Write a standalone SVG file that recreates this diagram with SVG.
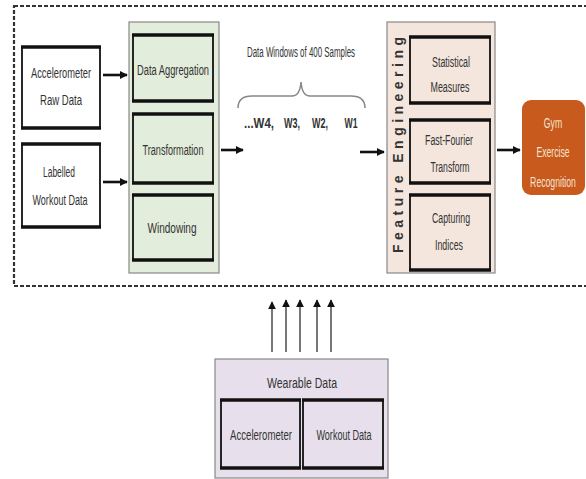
<svg xmlns="http://www.w3.org/2000/svg" width="586" height="479" viewBox="0 0 586 479">
  <style>
    .t { font-family: "Liberation Sans", Arial, sans-serif; font-size: 14px; fill: #333; text-anchor: middle; dominant-baseline: central; }
    .tw { fill: #f6e3d2; }
    .box { fill: #fff; stroke: #111; stroke-width: 1.8; }
    .green { fill: #e3eddb; stroke: #111; stroke-width: 1.8; }
    .pink { fill: #f4e6dd; stroke: #111; stroke-width: 1.8; }
    .lav { fill: #e7e0ec; stroke: #111; stroke-width: 1.8; }
    .edge { stroke: #111; stroke-width: 3.5; }
    .arrow { stroke: #111; stroke-width: 2.6; fill: none; }
    .up { stroke: #555; stroke-width: 1.6; fill: none; }
  </style>
  <defs>
    <marker id="head" viewBox="0 0 10 10" refX="9" refY="5" markerWidth="3.2" markerHeight="3.2" orient="auto">
      <path d="M0,0 L10,5 L0,10 z" fill="#111"/>
    </marker>
    <marker id="headUp" viewBox="0 0 10 10" refX="9" refY="5" markerWidth="5" markerHeight="5" orient="auto">
      <path d="M0,0 L10,5 L0,10 z" fill="#111"/>
    </marker>
  </defs>
  <rect width="586" height="479" fill="#fff"/>

  <!-- dashed system boundary -->
  <rect x="14" y="6" width="600" height="280" fill="none" stroke="#333" stroke-width="2.2" stroke-dasharray="4 2"/>

  <!-- input sources -->
  <g id="accel-raw">
    <rect class="box" x="22" y="47" width="78" height="81"/>
    <line class="edge" x1="21" y1="47" x2="101" y2="47"/>
    <line class="edge" x1="21" y1="128" x2="101" y2="128"/>
    <text class="t" x="61" y="73" textLength="60" lengthAdjust="spacingAndGlyphs">Accelerometer</text>
    <text class="t" x="61" y="100" textLength="42" lengthAdjust="spacingAndGlyphs">Raw Data</text>
  </g>
  <g id="labelled">
    <rect class="box" x="22" y="144" width="78" height="83"/>
    <line class="edge" x1="21" y1="144" x2="101" y2="144"/>
    <line class="edge" x1="21" y1="227" x2="101" y2="227"/>
    <text class="t" x="59" y="172" textLength="32" lengthAdjust="spacingAndGlyphs">Labelled</text>
    <text class="t" x="60" y="200" textLength="55" lengthAdjust="spacingAndGlyphs">Workout Data</text>
  </g>

  <!-- preprocessing -->
  <g id="preprocessing">
    <rect x="129" y="22" width="90" height="251" fill="#e3eddb" stroke="#888" stroke-width="1.2"/>
    <g id="aggregation">
      <rect class="green" x="133" y="35" width="80" height="66"/>
      <line class="edge" x1="132" y1="35" x2="214" y2="35"/>
      <line class="edge" x1="132" y1="101" x2="214" y2="101"/>
      <text class="t" x="173" y="70" textLength="72" lengthAdjust="spacingAndGlyphs">Data Aggregation</text>
    </g>
    <g id="transformation">
      <rect class="green" x="133" y="114" width="80" height="69"/>
      <line class="edge" x1="132" y1="114" x2="214" y2="114"/>
      <line class="edge" x1="132" y1="183" x2="214" y2="183"/>
      <text class="t" x="173" y="150" textLength="61" lengthAdjust="spacingAndGlyphs">Transformation</text>
    </g>
    <g id="windowing">
      <rect class="green" x="133" y="195" width="80" height="65"/>
      <line class="edge" x1="132" y1="195" x2="214" y2="195"/>
      <line class="edge" x1="132" y1="260" x2="214" y2="260"/>
      <text class="t" x="172" y="228" textLength="49" lengthAdjust="spacingAndGlyphs">Windowing</text>
    </g>
  </g>

  <!-- data windows -->
  <g id="windows">
    <text class="t" x="301" y="52" textLength="108" lengthAdjust="spacingAndGlyphs" font-size="12">Data Windows of 400 Samples</text>
    <path d="M238,108 Q238,96 252,96 L292,96 Q300,96 301,82 Q302,96 310,96 L351,96 Q365,96 365,108" fill="none" stroke="#888" stroke-width="1.5"/>
    <text class="t" x="259" y="123" textLength="30" lengthAdjust="spacingAndGlyphs" font-size="14" font-weight="bold">...W4,</text>
    <text class="t" x="292" y="123" textLength="16" lengthAdjust="spacingAndGlyphs" font-size="14" font-weight="bold">W3,</text>
    <text class="t" x="320" y="123" textLength="16" lengthAdjust="spacingAndGlyphs" font-size="14" font-weight="bold">W2,</text>
    <text class="t" x="351" y="123" textLength="13" lengthAdjust="spacingAndGlyphs" font-size="14" font-weight="bold">W1</text>
  </g>

  <!-- feature engineering -->
  <g id="feature-engineering">
    <rect x="387" y="22" width="108" height="251" fill="#f4e6dd" stroke="#888" stroke-width="1.2"/>
    <text class="t" transform="translate(398,145) rotate(-90)" font-weight="bold" font-size="13" textLength="216" lengthAdjust="spacing" fill="#222">Feature Engineering</text>
    <g id="statistical">
      <rect class="pink" x="410" y="37" width="80" height="66"/>
      <line class="edge" x1="409" y1="37" x2="491" y2="37"/>
      <line class="edge" x1="409" y1="103" x2="491" y2="103"/>
      <text class="t" x="451" y="62" textLength="38" lengthAdjust="spacingAndGlyphs">Statistical</text>
      <text class="t" x="450" y="87" textLength="39" lengthAdjust="spacingAndGlyphs">Measures</text>
    </g>
    <g id="fft">
      <rect class="pink" x="410" y="120" width="80" height="63"/>
      <line class="edge" x1="409" y1="120" x2="491" y2="120"/>
      <line class="edge" x1="409" y1="183" x2="491" y2="183"/>
      <text class="t" x="449" y="140" textLength="48" lengthAdjust="spacingAndGlyphs">Fast-Fourier</text>
      <text class="t" x="450" y="167" textLength="39" lengthAdjust="spacingAndGlyphs">Transform</text>
    </g>
    <g id="indices">
      <rect class="pink" x="410" y="195" width="80" height="75"/>
      <line class="edge" x1="409" y1="195" x2="491" y2="195"/>
      <line class="edge" x1="409" y1="270" x2="491" y2="270"/>
      <text class="t" x="451" y="218" textLength="38" lengthAdjust="spacingAndGlyphs">Capturing</text>
      <text class="t" x="449" y="245" textLength="28" lengthAdjust="spacingAndGlyphs">Indices</text>
    </g>
  </g>

  <!-- output: labels condensed horizontally to fit the narrow box -->
  <g id="recognition">
    <rect x="522" y="100" width="63" height="95" rx="9" fill="#c75a1c"/>
    <text class="t tw" transform="translate(553,123) scale(0.62,1)" font-size="13">Gym</text>
    <text class="t tw" transform="translate(553,152) scale(0.62,1)" font-size="13">Exercise</text>
    <text class="t tw" transform="translate(553,182) scale(0.62,1)" font-size="13">Recognition</text>
  </g>

  <!-- wearable data -->
  <g id="wearable">
    <rect x="215" y="359" width="173" height="119" fill="#e7e0ec" stroke="#888" stroke-width="1.2"/>
    <text class="t" x="302" y="383" textLength="70" lengthAdjust="spacingAndGlyphs" font-size="14" fill="#222">Wearable Data</text>
    <g id="accelerometer">
      <rect class="lav" x="221" y="400" width="79" height="68"/>
      <line class="edge" x1="220" y1="400" x2="301" y2="400"/>
      <line class="edge" x1="220" y1="468" x2="301" y2="468"/>
      <text class="t" x="261" y="435" textLength="62" lengthAdjust="spacingAndGlyphs">Accelerometer</text>
    </g>
    <g id="workout">
      <rect class="lav" x="303" y="400" width="80" height="68"/>
      <line class="edge" x1="302" y1="400" x2="384" y2="400"/>
      <line class="edge" x1="302" y1="468" x2="384" y2="468"/>
      <text class="t" x="344" y="435" textLength="55" lengthAdjust="spacingAndGlyphs">Workout Data</text>
    </g>
  </g>

  <!-- connectors -->
  <g id="connectors">
    <line class="arrow" x1="103" y1="75" x2="127" y2="75" marker-end="url(#head)"/>
    <line class="arrow" x1="103" y1="182" x2="127" y2="182" marker-end="url(#head)"/>
    <line class="arrow" x1="221" y1="150" x2="243" y2="150" marker-end="url(#head)"/>
    <line class="arrow" x1="360" y1="152" x2="384" y2="152" marker-end="url(#head)"/>
    <line class="arrow" x1="497" y1="150" x2="520" y2="150" marker-end="url(#head)"/>
    <line class="up" x1="272" y1="352" x2="272" y2="302" marker-end="url(#headUp)"/>
    <line class="up" x1="286" y1="352" x2="286" y2="300" marker-end="url(#headUp)"/>
    <line class="up" x1="300" y1="352" x2="300" y2="300" marker-end="url(#headUp)"/>
    <line class="up" x1="317" y1="352" x2="317" y2="300" marker-end="url(#headUp)"/>
    <line class="up" x1="331" y1="352" x2="331" y2="300" marker-end="url(#headUp)"/>
  </g>
</svg>
